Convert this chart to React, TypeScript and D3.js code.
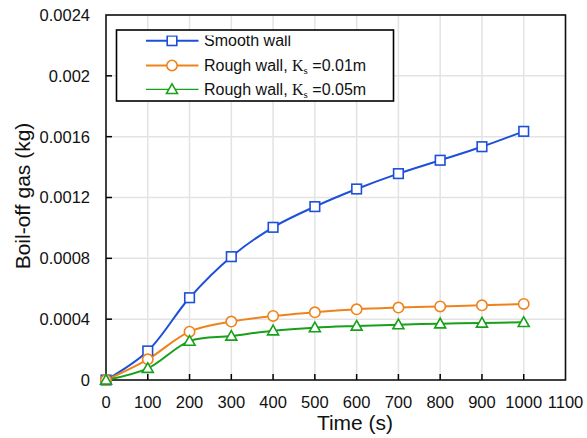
import React from "react";
import * as d3 from "d3";

const times = [0, 100, 200, 300, 400, 500, 600, 700, 800, 900, 1000];
const smoothWall = [0, 0.000191, 0.000541, 0.000811, 0.001004, 0.00114, 0.001256, 0.001357, 0.001445, 0.001534, 0.001635];
const roughWall001 = [0, 0.000136, 0.000318, 0.000384, 0.000421, 0.000445, 0.000465, 0.000476, 0.000484, 0.000491, 0.0005];
const roughWall005 = [0, 0.000077, 0.000256, 0.000289, 0.000324, 0.000344, 0.000355, 0.000364, 0.00037, 0.000375, 0.000379];
const xTicks = [0, 100, 200, 300, 400, 500, 600, 700, 800, 900, 1000, 1100];
const yTicks = [0, 0.0004, 0.0008, 0.0012, 0.0016, 0.002, 0.0024];
const yTickLabels = ["0", "0.0004", "0.0008", "0.0012", "0.0016", "0.002", "0.0024"];

const W = 587, H = 438;
const L = 106, T = 15, R = 565.5, B = 380;

const BLUE = "#1d50d8";
const ORANGE = "#f0821c";
const GREEN = "#17a019";

export default function App() {
  const x = d3.scaleLinear().domain([0, 1100]).range([L, R]);
  const y = d3.scaleLinear().domain([0, 0.0024]).range([B, T]);
  const line = d3
    .line<number>()
    .x((_, i) => x(times[i]))
    .y((d) => y(d))
    .curve(d3.curveCatmullRom.alpha(0.5));

  const font = "Liberation Sans, Arial, sans-serif";
  const series = [
    { name: "smooth", values: smoothWall, color: BLUE, marker: "square" },
    { name: "r01", values: roughWall001, color: ORANGE, marker: "circle" },
    { name: "r05", values: roughWall005, color: GREEN, marker: "triangle" },
  ];

  const marker = (type: string, cx: number, cy: number, color: string, key: string) => {
    if (type === "square")
      return <rect key={key} x={cx - 4.8} y={cy - 4.8} width={9.6} height={9.6} fill="white" stroke={color} strokeWidth={1.6} />;
    if (type === "circle")
      return <circle key={key} cx={cx} cy={cy} r={5.2} fill="white" stroke={color} strokeWidth={1.6} />;
    const s = 5.5;
    return (
      <path
        key={key}
        d={`M${cx},${cy - s} L${cx + s},${cy + s * 0.75} L${cx - s},${cy + s * 0.75} Z`}
        fill="white"
        stroke={color}
        strokeWidth={1.6}
      />
    );
  };

  const legendRows = [
    { color: BLUE, marker: "square", ly: 40.7, by: 45.7, lw: 2, label: "Smooth wall", ks: "" },
    { color: ORANGE, marker: "circle", ly: 65.5, by: 70.7, lw: 2, label: "Rough wall, ", ks: "=0.01m" },
    { color: GREEN, marker: "triangle", ly: 89.3, by: 95, lw: 1.2, label: "Rough wall, ", ks: "=0.05m" },
  ];

  return (
    <svg width={W} height={H} style={{ display: "block", position: "absolute", left: 0, top: 0 }}>
      <rect width={W} height={H} fill="white" />
      <defs>
        <clipPath id="legclip">
          <rect x={117} y={35.5} width={276} height={65} />
        </clipPath>
      </defs>
      {/* grid */}
      {xTicks.slice(1).map((t) => (
        <line key={"gx" + t} x1={x(t)} x2={x(t)} y1={T} y2={B} stroke="#e3e3e3" strokeWidth={1.5} />
      ))}
      {yTicks.slice(1).map((t) => (
        <line key={"gy" + t} x1={L} x2={R} y1={y(t)} y2={y(t)} stroke="#e3e3e3" strokeWidth={1.5} />
      ))}
      {/* ticks inward */}
      {xTicks.slice(1, -1).map((t) => (
        <line key={"tx" + t} x1={x(t)} x2={x(t)} y1={B} y2={B - 6} stroke="#000" strokeWidth={1.5} />
      ))}
      {yTicks.slice(1, -1).map((t) => (
        <line key={"ty" + t} x1={L} x2={L + 6} y1={y(t)} y2={y(t)} stroke="#000" strokeWidth={1.5} />
      ))}
      {/* frame */}
      <rect x={L} y={T} width={R - L} height={B - T} fill="none" stroke="#111" strokeWidth={1.6} />
      {/* series */}
      {series.map((s) => (
        <path key={s.name} d={line(s.values) || ""} fill="none" stroke={s.color} strokeWidth={2} />
      ))}
      {series.map((s) => s.values.map((v, i) => marker(s.marker, x(times[i]), y(v), s.color, s.name + i)))}
      {/* tick labels */}
      {xTicks.map((t) => (
        <text key={"lx" + t} x={x(t)} y={408} textAnchor="middle" fontFamily={font} fontSize={16.5} fill="#111">
          {t}
        </text>
      ))}
      {yTicks.map((t, i) => (
        <text key={"ly" + t} x={90} y={y(t)} dy="0.36em" textAnchor="end" fontFamily={font} fontSize={16.5} fill="#111">
          {yTickLabels[i]}
        </text>
      ))}
      {/* axis titles */}
      <text x={355} y={430} textAnchor="middle" fontFamily={font} fontSize={21} fill="#111">
        Time (s)
      </text>
      <text
        transform={`translate(30, 196) rotate(-90)`}
        textAnchor="middle"
        fontFamily={font}
        fontSize={21}
        fill="#111"
      >
        Boil-off gas (kg)
      </text>
      {/* legend */}
      <rect x={116.5} y={30} width={277} height={71} fill="white" stroke="#000" strokeWidth={1.6} />
      <g clipPath="url(#legclip)">
        {legendRows.map((r, i) => (
          <g key={"leg" + i}>
            <line x1={146} x2={198.5} y1={r.ly} y2={r.ly} stroke={r.color} strokeWidth={r.lw} />
            {marker(r.marker, 172, r.ly, r.color, "lm" + i)}
            <text x={204} y={r.by} fontFamily={font} fontSize={16} fill="#111">
              {r.label}
              {r.ks ? (
                <>
                  <tspan fontFamily="Liberation Serif, Times New Roman, serif" fontSize={16}>K</tspan>
                  <tspan fontFamily="Liberation Serif, Times New Roman, serif" fontSize={11} dy={3}>s</tspan>
                  <tspan dy={-3}> {r.ks}</tspan>
                </>
              ) : null}
            </text>
          </g>
        ))}
      </g>
    </svg>
  );
}
